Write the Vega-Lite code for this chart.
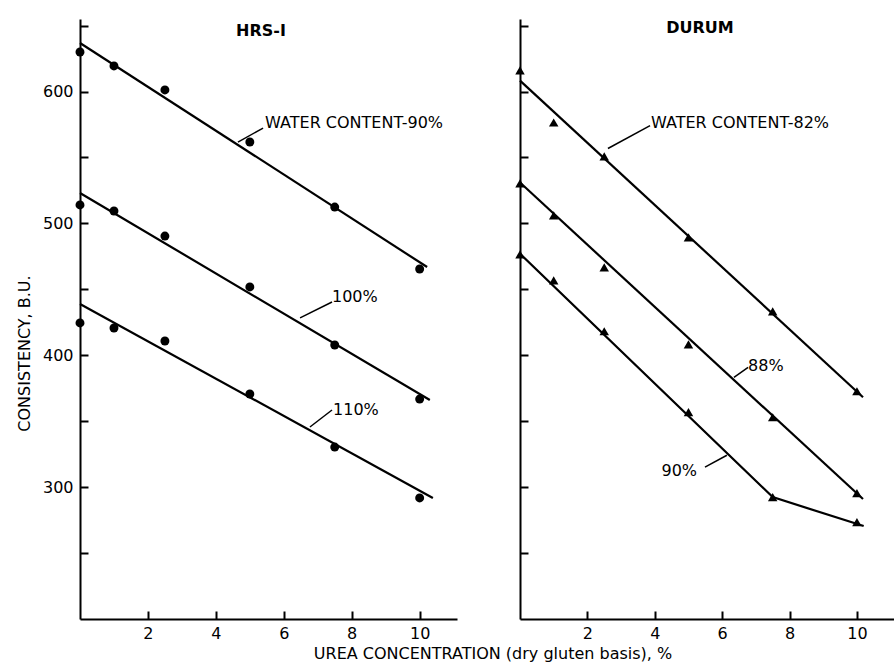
{
  "$schema": "https://vega.github.io/schema/vega-lite/v6.json",
  "background": "white",
  "padding": {"left": 16, "top": 19, "right": 0, "bottom": 0},
  "autosize": {"type": "pad"},
  "spacing": 58,
  "title": {"text": "UREA CONCENTRATION (dry gluten basis), %", "orient": "bottom", "anchor": "middle", "font": "DejaVu Sans", "fontSize": 16, "fontWeight": "normal", "color": "black", "offset": 5, "dx": 38},
  "datasets": {
    "hrs_points": [
      {"water": "90%", "urea": 0, "consistency": 630},
      {"water": "90%", "urea": 1, "consistency": 619.4},
      {"water": "90%", "urea": 2.5, "consistency": 601.2},
      {"water": "90%", "urea": 5, "consistency": 561.7},
      {"water": "90%", "urea": 7.5, "consistency": 512.4},
      {"water": "90%", "urea": 10, "consistency": 465.4},
      {"water": "100%", "urea": 0, "consistency": 514},
      {"water": "100%", "urea": 1, "consistency": 509.4},
      {"water": "100%", "urea": 2.5, "consistency": 490.4},
      {"water": "100%", "urea": 5, "consistency": 451.8},
      {"water": "100%", "urea": 7.5, "consistency": 407.8},
      {"water": "100%", "urea": 10, "consistency": 366.8},
      {"water": "110%", "urea": 0, "consistency": 424.5},
      {"water": "110%", "urea": 1, "consistency": 420.7},
      {"water": "110%", "urea": 2.5, "consistency": 410.8},
      {"water": "110%", "urea": 5, "consistency": 370.6},
      {"water": "110%", "urea": 7.5, "consistency": 330.4},
      {"water": "110%", "urea": 10, "consistency": 291.8}
    ],
    "hrs_fits": [
      {"water": "90%", "urea": 0, "consistency": 636.8},
      {"water": "90%", "urea": 10.22, "consistency": 466.9},
      {"water": "100%", "urea": 0, "consistency": 523},
      {"water": "100%", "urea": 10.3, "consistency": 366.1},
      {"water": "110%", "urea": 0, "consistency": 438.9},
      {"water": "110%", "urea": 10.39, "consistency": 291.8}
    ],
    "hrs_notes": [
      {"urea": 5.45, "consistency": 576, "label": "WATER CONTENT-90%"},
      {"urea": 7.42, "consistency": 444, "label": "100%"},
      {"urea": 7.45, "consistency": 358.5, "label": "110%"}
    ],
    "hrs_leaders": [
      {"urea": 4.65, "consistency": 561.7, "urea2": 5.39, "consistency2": 572.3},
      {"urea": 6.48, "consistency": 428.3, "urea2": 7.42, "consistency2": 440.4},
      {"urea": 6.77, "consistency": 345.6, "urea2": 7.42, "consistency2": 358.5}
    ],
    "durum_points": [
      {"water": "82%", "urea": 0, "consistency": 616},
      {"water": "82%", "urea": 1, "consistency": 576.5},
      {"water": "82%", "urea": 2.5, "consistency": 550.8},
      {"water": "82%", "urea": 5, "consistency": 489.4},
      {"water": "82%", "urea": 7.5, "consistency": 433.3},
      {"water": "82%", "urea": 10, "consistency": 372.7},
      {"water": "88%", "urea": 0, "consistency": 530.3},
      {"water": "88%", "urea": 1, "consistency": 506.1},
      {"water": "88%", "urea": 2.5, "consistency": 466.7},
      {"water": "88%", "urea": 5, "consistency": 408.3},
      {"water": "88%", "urea": 7.5, "consistency": 353},
      {"water": "88%", "urea": 10, "consistency": 295.5},
      {"water": "90%", "urea": 0, "consistency": 476.5},
      {"water": "90%", "urea": 1, "consistency": 456.8},
      {"water": "90%", "urea": 2.5, "consistency": 418.2},
      {"water": "90%", "urea": 5, "consistency": 356.8},
      {"water": "90%", "urea": 7.5, "consistency": 292.4},
      {"water": "90%", "urea": 10, "consistency": 273.5}
    ],
    "durum_fits": [
      {"water": "82%", "urea": 0, "consistency": 608.3},
      {"water": "82%", "urea": 10.18, "consistency": 368.2},
      {"water": "88%", "urea": 0, "consistency": 531},
      {"water": "88%", "urea": 10.18, "consistency": 291},
      {"water": "90%", "urea": 0, "consistency": 477},
      {"water": "90%", "urea": 7.5, "consistency": 292.4},
      {"water": "90%", "urea": 10.2, "consistency": 270.5}
    ],
    "durum_notes": [
      {"urea": 3.89, "consistency": 576.5, "label": "WATER CONTENT-82%"},
      {"urea": 6.77, "consistency": 391.7, "label": "88%"},
      {"urea": 4.2, "consistency": 312, "label": "90%"}
    ],
    "durum_leaders": [
      {"urea": 2.61, "consistency": 556.8, "urea2": 3.86, "consistency2": 574.2},
      {"urea": 6.35, "consistency": 383.3, "urea2": 6.77, "consistency2": 390.9},
      {"urea": 5.49, "consistency": 315.2, "urea2": 6.14, "consistency2": 324.2}
    ],
    "panel_titles_hrs": [{"urea": 5.33, "consistency": 646, "label": "HRS-I"}],
    "panel_titles_durum": [{"urea": 5.34, "consistency": 648, "label": "DURUM"}]
  },
  "hconcat": [
    {
      "width": 377,
      "height": 600,
      "encoding": {
        "x": {"field": "urea", "type": "quantitative", "scale": {"domain": [0, 11.1], "nice": false, "zero": false}, "axis": {"values": [2, 4, 6, 8, 10], "title": null, "labelPadding": 14}},
        "y": {"field": "consistency", "type": "quantitative", "scale": {"domain": [200, 655], "nice": false, "zero": false}, "axis": {"values": [250, 300, 350, 400, 450, 500, 550, 600, 650], "labelExpr": "(datum.value % 100 == 0 && datum.value >= 300) ? datum.label : ''", "title": "CONSISTENCY, B.U.", "titleX": -56, "titleY": 334, "titleBaseline": "middle", "labelPadding": 15}}
      },
      "layer": [
        {"data": {"name": "hrs_fits"}, "mark": {"type": "line", "color": "black", "strokeWidth": 2.2}, "encoding": {"detail": {"field": "water"}}},
        {"data": {"name": "hrs_points"}, "mark": {"type": "point", "shape": "circle", "filled": true, "color": "black", "opacity": 1, "size": 80}},
        {"data": {"name": "hrs_leaders"}, "mark": {"type": "rule", "color": "black", "strokeWidth": 1.5}, "encoding": {"x2": {"field": "urea2"}, "y2": {"field": "consistency2"}}},
        {"data": {"name": "hrs_notes"}, "mark": {"type": "text", "align": "left", "baseline": "middle", "font": "DejaVu Sans", "fontSize": 16, "color": "black"}, "encoding": {"text": {"field": "label"}}},
        {"data": {"name": "panel_titles_hrs"}, "mark": {"type": "text", "align": "center", "baseline": "middle", "font": "DejaVu Sans", "fontSize": 16, "fontWeight": "bold", "color": "black"}, "encoding": {"text": {"field": "label"}}}
      ]
    },
    {
      "width": 374,
      "height": 600,
      "encoding": {
        "x": {"field": "urea", "type": "quantitative", "scale": {"domain": [0, 11.1], "nice": false, "zero": false}, "axis": {"values": [2, 4, 6, 8, 10], "title": null, "labelPadding": 14}},
        "y": {"field": "consistency", "type": "quantitative", "scale": {"domain": [200, 655], "nice": false, "zero": false}, "axis": {"values": [250, 300, 350, 400, 450, 500, 550, 600, 650], "labels": false, "title": null}}
      },
      "layer": [
        {"data": {"name": "durum_fits"}, "mark": {"type": "line", "color": "black", "strokeWidth": 2.2}, "encoding": {"detail": {"field": "water"}}},
        {"data": {"name": "durum_points"}, "mark": {"type": "point", "shape": "triangle-up", "filled": true, "color": "black", "opacity": 1, "size": 90}},
        {"data": {"name": "durum_leaders"}, "mark": {"type": "rule", "color": "black", "strokeWidth": 1.5}, "encoding": {"x2": {"field": "urea2"}, "y2": {"field": "consistency2"}}},
        {"data": {"name": "durum_notes"}, "mark": {"type": "text", "align": "left", "baseline": "middle", "font": "DejaVu Sans", "fontSize": 16, "color": "black"}, "encoding": {"text": {"field": "label"}}},
        {"data": {"name": "panel_titles_durum"}, "mark": {"type": "text", "align": "center", "baseline": "middle", "font": "DejaVu Sans", "fontSize": 16, "fontWeight": "bold", "color": "black"}, "encoding": {"text": {"field": "label"}}}
      ]
    }
  ],
  "config": {
    "view": {"stroke": null},
    "axis": {"grid": false, "domainColor": "black", "domainWidth": 2, "tickColor": "black", "tickWidth": 2, "tickSize": -8, "labelColor": "black", "labelFont": "DejaVu Sans", "labelFontSize": 16, "titleColor": "black", "titleFont": "DejaVu Sans", "titleFontSize": 16, "titleFontWeight": "normal"}
  }
}
